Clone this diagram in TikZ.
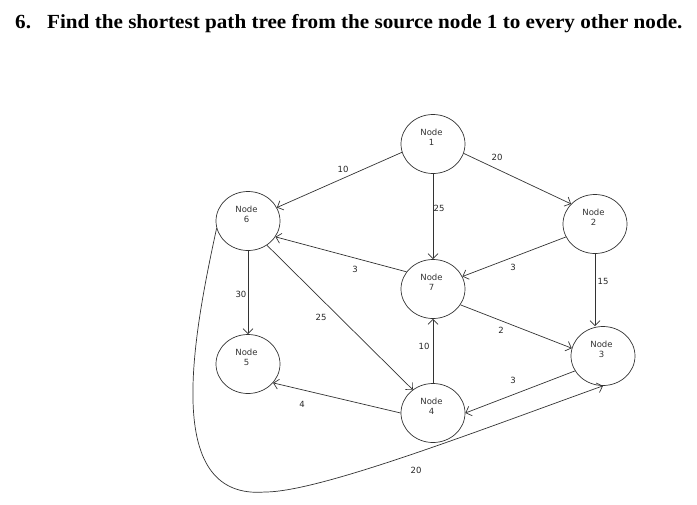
\documentclass[tikz,border=0pt]{standalone}
\usepackage{fontspec}
\setmainfont{Liberation Serif}
\setsansfont{DejaVu Sans}
\usetikzlibrary{shapes.geometric,arrows.meta}
\begin{document}
\begin{tikzpicture}[x=1pt,y=-1pt,
  vert/.style={ellipse,draw=black!80,line width=0.7pt,minimum width=64pt,minimum height=59pt,inner sep=0pt},
  vlab/.style={align=center,font=\sffamily\fontsize{8.5}{10}\selectfont,text=black!80,yshift=7pt,xshift=-1.5pt},
  elab/.style={font=\sffamily\fontsize{8.5}{10}\selectfont,text=black!85,inner sep=1pt},
  edge/.style={draw=black!80,line width=0.7pt,-{Straight Barb[length=5pt,width=10pt]}},
  ttl/.style={font=\bfseries\fontsize{20}{24}\selectfont,anchor=base west,inner sep=0pt}
]
\useasboundingbox (0,0) rectangle (697,504);
\node[ttl] (num) at (15,28) {\scalebox{1.057}[1]{6.}};
\node[ttl] (title) at (47,28) {\scalebox{1.057}[1]{Find the shortest path tree from the source node 1 to every other node.}};

\node[vert,label={[vlab]center:Node\\1}] (n1) at (433,144) {};
\node[vert,label={[vlab]center:Node\\6}] (n6) at (248,221) {};
\node[vert,label={[vlab]center:Node\\2}] (n2) at (595,224) {};
\node[vert,label={[vlab]center:Node\\7}] (n7) at (433,289) {};
\node[vert,label={[vlab]center:Node\\5}] (n5) at (248,364) {};
\node[vert,label={[vlab]center:Node\\3}] (n3) at (603,356) {};
\node[vert,label={[vlab]center:Node\\4}] (n4) at (433,413) {};

\draw[edge] (n1.195) -- (n6.25);
\draw[edge] (n1.-17) -- (n2.140);
\draw[edge] (n1.south) -- (n7.north);
\draw[edge] (n2.204) -- (n7.23);
\draw[edge] (n2.south) -- (n2.south |- n3.north);
\draw[edge] (n7.147) -- (n6.-30);
\draw[edge] (n6.south) -- (n5.north);
\draw[edge] (n6.-52) -- (n4.131);
\draw[edge] (n7.-30) -- (n3.166);
\draw[edge] (n4.north) -- (n7.south);
\draw[edge] (n3.208) -- (n4.0);
\draw[edge] (n4.180) -- (n5.-37);
\draw[edge] (n6.193) .. controls (190,350) and (165,500) .. (265,492) .. controls (320,492) and (480,430) .. (n3.south);

\node[elab] (l16) at (343,169) {10};
\node[elab] (l17) at (439,208) {25};
\node[elab] (l12) at (497,157) {20};
\node[elab] (l27) at (513,267) {3};
\node[elab] (l23) at (603,281) {15};
\node[elab] (l76) at (355,269) {3};
\node[elab] (l65) at (241,294) {30};
\node[elab] (l64) at (321,317) {25};
\node[elab] (l47) at (424,346) {10};
\node[elab] (l73) at (501,330) {2};
\node[elab] (l34) at (513,380) {3};
\node[elab] (l45) at (302,404) {4};
\node[elab] (l63) at (416,470) {20};
\end{tikzpicture}
\end{document}
